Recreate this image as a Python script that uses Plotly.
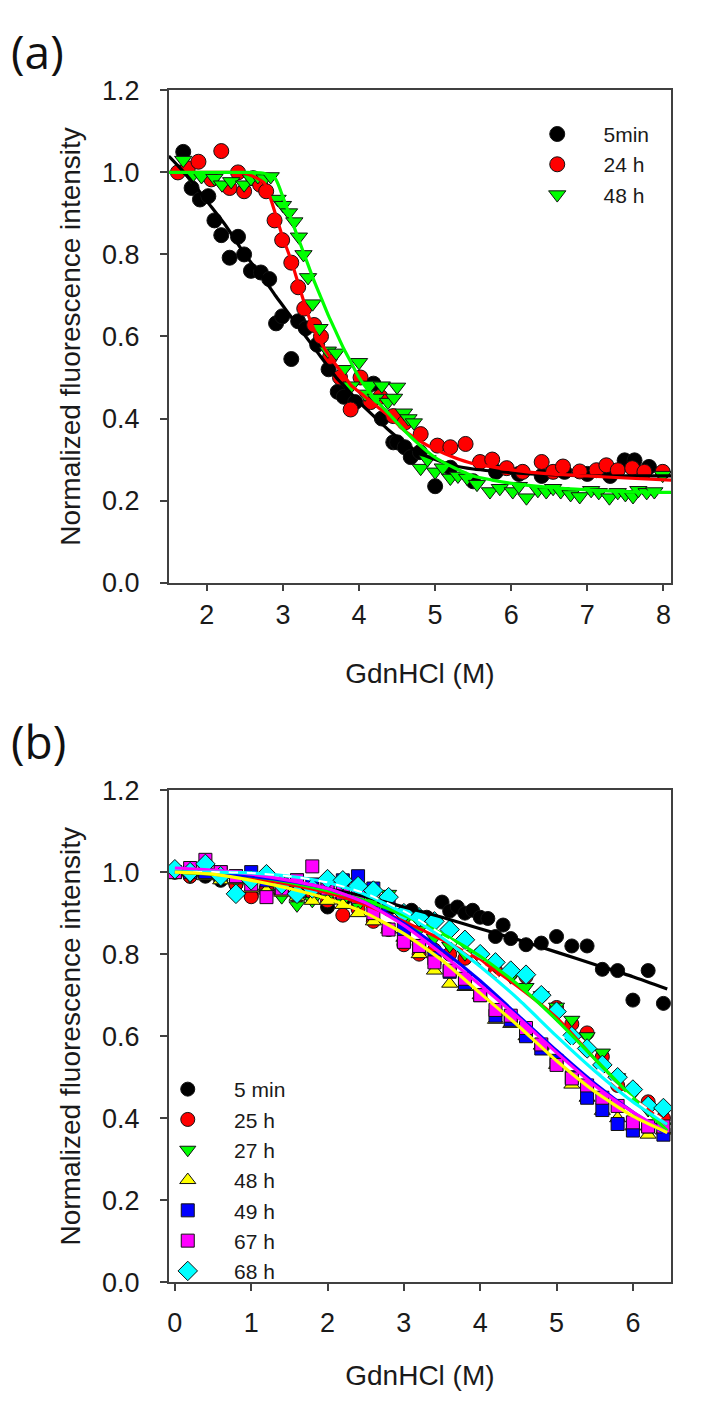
import plotly.graph_objects as go

# ---------------- Panel (a) data ----------------
A_5MIN_X = [1.69, 1.80, 1.91, 2.02, 2.10, 2.19, 2.30, 2.41, 2.49, 2.58,
            2.71, 2.82, 2.91, 2.99, 3.11, 3.20, 3.30, 3.45, 3.60, 3.72,
            3.80, 3.95, 4.19, 4.30, 4.45, 4.50, 4.60, 4.68, 4.80, 5.00,
            5.20, 5.50, 5.80, 6.10, 6.40, 6.70, 7.00, 7.30, 7.49, 7.62,
            7.81]
A_5MIN_Y = [1.05, 0.962, 0.934, 0.942, 0.883, 0.847, 0.792, 0.843, 0.80, 0.76,
            0.756, 0.74, 0.632, 0.649, 0.545, 0.637, 0.62, 0.58, 0.52, 0.465,
            0.453, 0.44, 0.485, 0.40, 0.342, 0.342, 0.33, 0.306, 0.318, 0.235,
            0.28, 0.247, 0.27, 0.265, 0.26, 0.27, 0.265, 0.26, 0.298, 0.298,
            0.282]

A_24H_X = [1.62, 1.75, 1.89, 2.06, 2.19, 2.30, 2.41, 2.49, 2.61, 2.70,
           2.78, 2.89, 2.99, 3.11, 3.20, 3.28, 3.41, 3.50, 3.62, 3.75,
           3.89, 4.02, 4.15, 4.28, 4.45, 4.60, 4.81, 5.03, 5.20, 5.40,
           5.59, 5.75, 5.94, 6.15, 6.40, 6.55, 6.68, 6.90, 7.12, 7.25,
           7.40, 7.59, 7.75, 7.99]
A_24H_Y = [1.0, 1.01, 1.026, 0.983, 1.052, 0.962, 1.0, 0.954, 0.986, 0.97,
           0.954, 0.883, 0.835, 0.78, 0.72, 0.668, 0.628, 0.60, 0.55, 0.50,
           0.422, 0.50, 0.44, 0.453, 0.406, 0.39, 0.362, 0.334, 0.33, 0.338,
           0.294, 0.30, 0.279, 0.27, 0.294, 0.27, 0.283, 0.271, 0.274, 0.286,
           0.274, 0.279, 0.27, 0.27]

A_48H_X = [1.69, 1.80, 1.93, 2.10, 2.20, 2.32, 2.49, 2.58, 2.67, 2.76,
           2.84, 2.93, 3.00, 3.08, 3.15, 3.21, 3.27, 3.33, 3.39, 3.48,
           3.59, 3.70, 3.80, 3.90, 4.00, 4.08, 4.15, 4.22, 4.30, 4.38,
           4.46, 4.50, 4.59, 4.65, 4.72, 4.81, 4.90, 5.00, 5.10, 5.20,
           5.30, 5.42, 5.55, 5.72, 5.85, 6.02, 6.10, 6.20, 6.35, 6.46,
           6.55, 6.65, 6.78, 6.90, 7.05, 7.15, 7.29, 7.40, 7.50, 7.60,
           7.67, 7.78, 7.88, 7.99]
A_48H_Y = [1.03, 0.99, 0.99, 0.986, 0.97, 0.978, 0.97, 0.985, 0.99, 0.985,
           0.99, 0.935, 0.92, 0.902, 0.88, 0.843, 0.80, 0.744, 0.68, 0.62,
           0.565, 0.56, 0.52, 0.48, 0.537, 0.46, 0.482, 0.45, 0.48, 0.44,
           0.45, 0.477, 0.414, 0.40, 0.39, 0.279, 0.30, 0.27, 0.28, 0.255,
           0.26, 0.255, 0.24, 0.222, 0.23, 0.222, 0.235, 0.207, 0.225, 0.222,
           0.23, 0.222, 0.215, 0.21, 0.225, 0.22, 0.207, 0.22, 0.215, 0.21,
           0.225, 0.22, 0.222, 0.262]

# fitted curves, panel (a)
FIT_A_X = [1.5, 1.75, 2.0, 2.25, 2.5, 2.75, 2.9, 3.0, 3.1, 3.2,
           3.3, 3.4, 3.5, 3.6, 3.7, 3.8, 3.9, 4.0, 4.2, 4.4,
           4.6, 4.8, 5.0, 5.25, 5.5, 5.75, 6.0, 6.5, 7.0, 7.5, 8.1]
FIT_A_5MIN = [1.04, 0.99, 0.93, 0.87, 0.80, 0.74, 0.70, 0.675, 0.65, 0.625,
              0.60, 0.575, 0.55, 0.525, 0.50, 0.48, 0.46, 0.44, 0.405, 0.37,
              0.34, 0.315, 0.30, 0.285, 0.277, 0.272, 0.268, 0.263, 0.26, 0.26, 0.26]
FIT_A_24H = [1.0, 1.0, 1.0, 1.0, 0.998, 0.975, 0.90, 0.84, 0.79, 0.73,
             0.67, 0.62, 0.585, 0.555, 0.53, 0.505, 0.48, 0.465, 0.435, 0.405,
             0.37, 0.345, 0.325, 0.305, 0.29, 0.282, 0.275, 0.265, 0.26, 0.255, 0.25]
FIT_A_48H = [1.0, 1.0, 1.0, 1.0, 1.0, 0.998, 0.985, 0.94, 0.89, 0.84,
             0.79, 0.74, 0.695, 0.65, 0.61, 0.57, 0.535, 0.50, 0.45, 0.41,
             0.37, 0.335, 0.305, 0.28, 0.26, 0.25, 0.242, 0.232, 0.226, 0.222, 0.22]

# ---------------- Panel (b) data ----------------
B_5MIN_X = [0.0, 0.2, 0.4, 0.6, 0.8, 1.0, 1.2, 1.4, 1.6, 1.8,
            2.0, 2.2, 2.4, 2.6, 2.8, 3.0, 3.1, 3.3, 3.5, 3.6,
            3.7, 3.8, 3.9, 4.0, 4.1, 4.2, 4.3, 4.4, 4.6, 4.8,
            5.0, 5.2, 5.4, 5.6, 5.8, 6.0, 6.2, 6.4]
B_5MIN_Y = [1.0, 0.99, 0.99, 0.98, 0.97, 0.943, 0.96, 0.955, 0.95, 0.94,
            0.915, 0.93, 0.925, 0.92, 0.91, 0.90, 0.907, 0.89, 0.927, 0.905,
            0.915, 0.90, 0.907, 0.89, 0.887, 0.843, 0.871, 0.838, 0.823, 0.827,
            0.843, 0.82, 0.82, 0.763, 0.76, 0.688, 0.76, 0.68]

B_X = [0.0, 0.2, 0.4, 0.6, 0.8, 1.0, 1.2, 1.4, 1.6, 1.8,
       2.0, 2.2, 2.4, 2.6, 2.8, 3.0, 3.2, 3.4, 3.6, 3.8,
       4.0, 4.2, 4.4, 4.6, 4.8, 5.0, 5.2, 5.4, 5.6, 5.8,
       6.0, 6.2, 6.4]
B_25H_Y = [1.0, 0.99, 1.0, 0.99, 0.97, 0.94, 0.96, 0.95, 0.94, 0.95,
           0.93, 0.895, 0.91, 0.88, 0.86, 0.823, 0.80, 0.81, 0.80, 0.79,
           0.80, 0.76, 0.752, 0.745, 0.70, 0.67, 0.63, 0.608, 0.55, 0.48,
           0.47, 0.44, 0.40]
B_27H_Y = [1.0, 0.99, 1.0, 0.99, 0.98, 0.97, 0.95, 0.939, 0.919, 0.93,
           0.94, 0.93, 0.92, 0.93, 0.947, 0.88, 0.86, 0.84, 0.82, 0.80,
           0.79, 0.77, 0.744, 0.72, 0.70, 0.672, 0.64, 0.60, 0.56, 0.50,
           0.46, 0.42, 0.38]
B_48H_Y = [1.0, 1.0, 0.99, 0.98, 0.98, 0.96, 0.955, 0.95, 0.94, 0.93,
           0.93, 0.92, 0.90, 0.88, 0.86, 0.84, 0.80, 0.76, 0.728, 0.72,
           0.70, 0.64, 0.63, 0.60, 0.577, 0.53, 0.482, 0.45, 0.418, 0.40,
           0.38, 0.36, 0.37]
B_49H_Y = [1.0, 1.0, 1.0, 1.0, 0.99, 1.0, 0.98, 0.97, 0.98, 0.97,
           0.97, 0.98, 0.99, 0.96, 0.92, 0.86, 0.82, 0.79, 0.757, 0.73,
           0.70, 0.65, 0.64, 0.60, 0.57, 0.54, 0.50, 0.45, 0.42, 0.386,
           0.37, 0.38, 0.36]
B_67H_Y = [1.0, 1.01, 1.03, 1.0, 0.99, 0.97, 0.939, 0.96, 0.98, 1.014,
           0.96, 0.95, 0.94, 0.90, 0.86, 0.83, 0.82, 0.78, 0.76, 0.74,
           0.70, 0.664, 0.65, 0.62, 0.58, 0.53, 0.497, 0.48, 0.45, 0.43,
           0.39, 0.38, 0.38]
B_68H_Y = [1.007, 1.0, 1.02, 0.99, 0.947, 0.98, 0.995, 0.97, 0.947, 0.96,
           0.983, 0.98, 0.966, 0.955, 0.939, 0.90, 0.89, 0.88, 0.86, 0.835,
           0.80, 0.78, 0.76, 0.75, 0.70, 0.66, 0.60, 0.57, 0.53, 0.50,
           0.47, 0.43, 0.425]

# fitted curves, panel (b)
FIT_B_X = [0.0, 0.5, 1.0, 1.5, 2.0, 2.5, 3.0, 3.5, 4.0, 4.5, 5.0, 5.5, 6.0, 6.45]
FIT_B_5MIN = [1.0, 0.998, 0.99, 0.975, 0.96, 0.94, 0.915, 0.89, 0.862, 0.835, 0.805, 0.775, 0.745, 0.715]
FIT_B_25H = [1.0, 0.995, 0.985, 0.97, 0.95, 0.92, 0.88, 0.835, 0.785, 0.72, 0.645, 0.545, 0.45, 0.385]
FIT_B_27H = [1.0, 0.995, 0.99, 0.975, 0.955, 0.93, 0.895, 0.85, 0.795, 0.725, 0.64, 0.545, 0.45, 0.37]
FIT_B_48H = [1.0, 0.995, 0.98, 0.96, 0.935, 0.90, 0.85, 0.785, 0.705, 0.625, 0.54, 0.465, 0.405, 0.365]
FIT_B_49H = [1.0, 0.998, 0.99, 0.978, 0.96, 0.925, 0.875, 0.81, 0.735, 0.65, 0.565, 0.485, 0.415, 0.36]
FIT_B_67H = [1.01, 1.005, 0.995, 0.98, 0.96, 0.925, 0.87, 0.80, 0.725, 0.645, 0.56, 0.48, 0.415, 0.365]
FIT_B_68H = [1.0, 1.0, 0.998, 0.99, 0.975, 0.945, 0.90, 0.84, 0.77, 0.69, 0.60, 0.515, 0.44, 0.385]
FIT_B_DASH = [1.0, 1.0, 0.998, 0.99, 0.975, 0.948, 0.905, 0.848, 0.78, 0.70, 0.612, 0.525, 0.448, 0.39]

Y_TICKS = [0.0, 0.2, 0.4, 0.6, 0.8, 1.0, 1.2]
A_X_TICKS = [2, 3, 4, 5, 6, 7, 8]
B_X_TICKS = [0, 1, 2, 3, 4, 5, 6]

FONT = "Arial, Liberation Sans, sans-serif"
AX = "#404040"
TXT = "#1a1a1a"
GAP = "\u2003\u2005"  # spacing between legend symbol and its label

fig = go.Figure()


def pts(x, y, name, symbol, color, xa, ya, legend, size):
    fig.add_trace(go.Scatter(
        x=x, y=y, mode="markers", name=GAP + name, xaxis=xa, yaxis=ya, legend=legend,
        marker=dict(symbol=symbol, size=size, color=color,
                    line=dict(color="#111111", width=1))))


def fit(x, y, color, xa, ya, width=3.2, dash="solid"):
    fig.add_trace(go.Scatter(
        x=x, y=y, mode="lines", xaxis=xa, yaxis=ya, showlegend=False,
        line=dict(color=color, width=width, shape="spline", smoothing=0.6, dash=dash)))


# panel (a)
pts(A_5MIN_X, A_5MIN_Y, "5min", "circle", "#000000", "x", "y", "legend", 15)
pts(A_24H_X, A_24H_Y, "24 h", "circle", "#ff0000", "x", "y", "legend", 15)
pts(A_48H_X, A_48H_Y, "48 h", "triangle-down", "#00ff00", "x", "y", "legend", 15)
fit(FIT_A_X, FIT_A_5MIN, "#000000", "x", "y")
fit(FIT_A_X, FIT_A_24H, "#ff0000", "x", "y")
fit(FIT_A_X, FIT_A_48H, "#00ff00", "x", "y")

# panel (b)
pts(B_5MIN_X, B_5MIN_Y, "5 min", "circle", "#000000", "x2", "y2", "legend2", 14)
pts(B_X, B_25H_Y, "25 h", "circle", "#ff0000", "x2", "y2", "legend2", 14)
pts(B_X, B_27H_Y, "27 h", "triangle-down", "#00ff00", "x2", "y2", "legend2", 14)
pts(B_X, B_48H_Y, "48 h", "triangle-up", "#ffff00", "x2", "y2", "legend2", 14)
pts(B_X, B_49H_Y, "49 h", "square", "#0000ff", "x2", "y2", "legend2", 13)
pts(B_X, B_67H_Y, "67 h", "square", "#ff00ff", "x2", "y2", "legend2", 13)
pts(B_X, B_68H_Y, "68 h", "diamond", "#00ffff", "x2", "y2", "legend2", 15)
fit(FIT_B_X, FIT_B_5MIN, "#000000", "x2", "y2")
fit(FIT_B_X, FIT_B_25H, "#ff0000", "x2", "y2")
fit(FIT_B_X, FIT_B_27H, "#00ff00", "x2", "y2")
fit(FIT_B_X, FIT_B_49H, "#0000ff", "x2", "y2")
fit(FIT_B_X, FIT_B_67H, "#ff00ff", "x2", "y2")
fit(FIT_B_X, FIT_B_68H, "#00ffff", "x2", "y2")
fit(FIT_B_X, FIT_B_DASH, "#ffffff", "x2", "y2", width=2, dash="dash")
fit(FIT_B_X, FIT_B_48H, "#ffff00", "x2", "y2")

W, H = 712, 1404
XDOM = [168 / W, 671 / W]
YDOM_A = [1 - 580 / H, 1 - 77 / H]
YDOM_B = [1 - 1295 / H, 1 - 792 / H]

common_axis = dict(showline=True, linecolor=AX, linewidth=1.5, mirror=True,
                   ticks="outside", ticklen=7, tickwidth=1.5, tickcolor=AX,
                   showgrid=False, zeroline=False,
                   tickfont=dict(family=FONT, size=27, color=TXT))
title_font = dict(family=FONT, size=28, color=TXT)
legend_font = dict(family=FONT, size=21, color=TXT)

fig.update_layout(
    width=W, height=H,
    margin=dict(l=0, r=0, t=0, b=0),
    paper_bgcolor="#ffffff", plot_bgcolor="#ffffff",
    xaxis=dict(domain=XDOM, anchor="y", range=[1.5, 8.1], tickvals=A_X_TICKS,
               title=dict(text="GdnHCl (M)", font=title_font, standoff=35), **common_axis),
    yaxis=dict(domain=YDOM_A, anchor="x", range=[0, 1.2], tickvals=Y_TICKS, tickformat=".1f",
               ticklabelstandoff=15,
               title=dict(text="Normalized fluorescence intensity", font=title_font, standoff=13),
               **common_axis),
    xaxis2=dict(domain=XDOM, anchor="y2", range=[-0.08, 6.5], tickvals=B_X_TICKS,
                ticklabelstandoff=9,
                title=dict(text="GdnHCl (M)", font=title_font, standoff=28), **common_axis),
    yaxis2=dict(domain=YDOM_B, anchor="x2", range=[0, 1.2], tickvals=Y_TICKS, tickformat=".1f",
                ticklabelstandoff=15,
                title=dict(text="Normalized fluorescence intensity", font=title_font, standoff=13),
                **common_axis),
    legend=dict(x=537 / W, y=1 - 101 / H, xanchor="left", yanchor="top",
                bgcolor="rgba(0,0,0,0)", font=legend_font, itemsizing="trace"),
    legend2=dict(x=167 / W, y=1 - 1077 / H, xanchor="left", yanchor="top",
                 bgcolor="rgba(0,0,0,0)", font=legend_font, itemsizing="trace"),
    annotations=[
        dict(text="(a)", x=8 / W, y=1 - 37 / H, xref="paper", yref="paper",
             xanchor="left", yanchor="middle", showarrow=False,
             font=dict(family="Open Sans, sans-serif", size=46, color="#111111")),
        dict(text="(b)", x=8 / W, y=1 - 742 / H, xref="paper", yref="paper",
             xanchor="left", yanchor="middle", showarrow=False,
             font=dict(family="Open Sans, sans-serif", size=46, color="#111111")),
    ],
)

fig.write_html("out.html")
